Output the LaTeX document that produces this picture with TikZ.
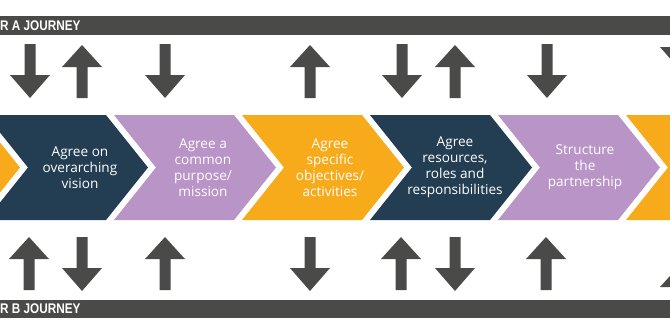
\documentclass[tikz,border=0pt]{standalone}
\usepackage{fontspec}
\setmainfont{Open Sans}
\newfontfamily\barfont[FakeStretch=0.84]{Liberation Sans}
\usepackage{tikz}
\usetikzlibrary{positioning}

\definecolor{bargray}{HTML}{4A4A48}
\definecolor{navy}{HTML}{233E52}
\definecolor{lilac}{HTML}{B994C6}
\definecolor{gold}{HTML}{F7AB1B}

\begin{document}
\begin{tikzpicture}[
  x=1pt, y=-1pt,
  steptext/.style={text=white, align=center, inner sep=0pt, font=\fontsize{13.6}{16}\selectfont},
  bartext/.style={text=white, anchor=west, inner sep=0pt, font=\barfont\bfseries\fontsize{14}{14}\selectfont},
  bar/.style={fill=bargray},
  arrowdn/.pic={\fill[bargray] (-5.5,0) -- (5.5,0) -- (5.5,31) -- (20,31) -- (0,54) -- (-20,31) -- (-5.5,31) -- cycle;},
  arrowup/.pic={\fill[bargray] (0,0) -- (20,22) -- (5.5,22) -- (5.5,53) -- (-5.5,53) -- (-5.5,22) -- (-20,22) -- cycle;}
]
\useasboundingbox (0,0) rectangle (670,335);
\clip (0,0) rectangle (670,335);

% journey bars
\fill[bar] (0,16) rectangle (670,35);
\fill[bar] (0,300) rectangle (670,318);
\node[bartext] (journeyA) at (0,25.5) {R A JOURNEY};
\node[bartext] (journeyB) at (0,309) {R B JOURNEY};

% chevrons
\foreach \t/\c in {20/gold, 148/navy, 276/lilac, 404/gold, 532/navy, 660/lilac, 788/gold}
  \fill[\c] (\t-162,115) -- (\t-42,115) -- (\t,167.5) -- (\t-42,220) -- (\t-162,220) -- (\t-120,167.5) -- cycle;

\node[steptext] (vision) at (80,167.5) {Agree on\\overarching\\vision};
\node[steptext] (mission) at (203,167.5) {Agree a\\common\\purpose/\\mission};
\node[steptext] (objectives) at (330,167.5) {Agree\\specific\\objectives/\\activities};
\node[steptext] (resources) at (455,167.5) {Agree\\resources,\\roles and\\responsibilities};
\node[steptext] (structure) at (585,167.5) {Structure\\the\\partnership};

% arrows, partner A
\pic at (30,44) {arrowdn};
\pic at (82,45) {arrowup};
\pic at (165,44) {arrowdn};
\pic at (310,45) {arrowup};
\pic at (402,44) {arrowdn};
\pic at (455,45) {arrowup};
\pic at (547,44) {arrowdn};
\pic at (680,16) {arrowdn};

% arrows, partner B
\pic at (29,237) {arrowup};
\pic at (82,237) {arrowdn};
\pic at (165,237) {arrowup};
\pic at (310,237) {arrowdn};
\pic at (401,237) {arrowup};
\pic at (455,237) {arrowdn};
\pic at (546,237) {arrowup};
\pic at (680,265) {arrowup};
\end{tikzpicture}
\end{document}
